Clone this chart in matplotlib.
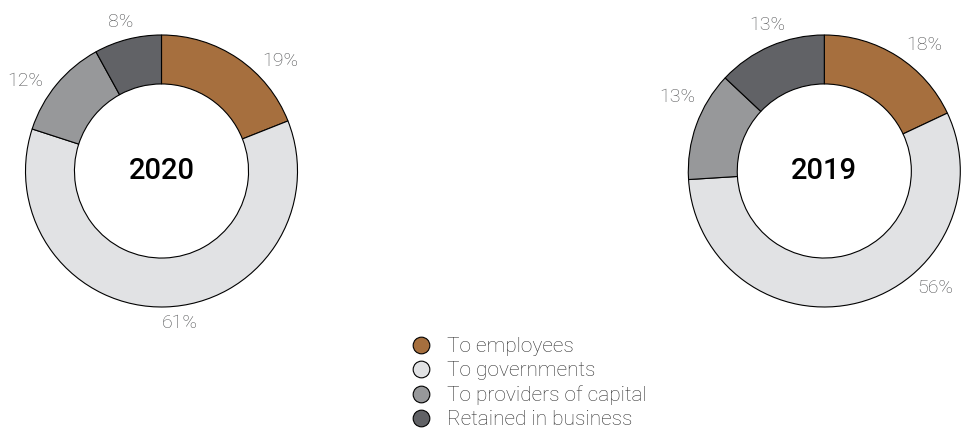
import numpy as np
import matplotlib.pyplot as plt
from matplotlib.lines import Line2D

categories = ['To employees', 'To governments', 'To providers of capital', 'Retained in business']
colors = ['#a66f3e', '#e1e2e4', '#97989a', '#616266']

years = ['2020', '2019']
values_2020 = [19, 61, 12, 8]
values_2019 = [18, 56, 13, 13]

# label angle nudges (degrees) to follow the hand placed labels of the original
nudge_2020 = [-13, 5, 6, 1]
nudge_2019 = [-6, 29, -7, -2]

W, H = 962, 430
fig = plt.figure(figsize=(W / 100, H / 100), dpi=100)
plt.rcParams['font.family'] = ['Roboto', 'DejaVu Sans']

R_PX = 134
BOX = 170


def donut(cx, cy, vals, year, nudges):
    ax = fig.add_axes([(cx - BOX) / W, (H - cy - BOX) / H, 2 * BOX / W, 2 * BOX / H])
    ax.set_xlim(-BOX / R_PX, BOX / R_PX)
    ax.set_ylim(-BOX / R_PX, BOX / R_PX)
    ax.set_aspect('equal')
    ax.axis('off')
    wedges, _ = ax.pie(vals, colors=colors, startangle=90, counterclock=False, radius=1,
                       wedgeprops=dict(width=0.36, edgecolor='black', linewidth=0.8))
    for w, v, n in zip(wedges, vals, nudges):
        ang = np.deg2rad((w.theta1 + w.theta2) / 2 + n)
        dist = 1.11 + 0.11 * abs(np.cos(ang))
        ax.text(dist * np.cos(ang), dist * np.sin(ang), f'{v}%', ha='center', va='center',
                fontsize=14, color='#4e4f51', fontweight='light')
    ax.text(0, 0, year, ha='center', va='center', fontsize=21, fontweight='medium', color='black')


donut(161.5, 171, values_2020, years[0], nudge_2020)
donut(824.3, 171, values_2019, years[1], nudge_2019)

handles = [Line2D([], [], marker='o', linestyle='none', markersize=12, markerfacecolor=c,
                  markeredgecolor='black', markeredgewidth=0.8) for c in colors]
fig.legend(handles, categories, loc='center left', bbox_to_anchor=(408.5 / W, 1 - 383 / H),
           frameon=False, labelspacing=0.25, handletextpad=0.65,
           borderpad=0, borderaxespad=0, handlelength=1.2, labelcolor='#303030',
           prop=dict(weight='light', size=15))

fig.savefig('out.png', dpi=100)
